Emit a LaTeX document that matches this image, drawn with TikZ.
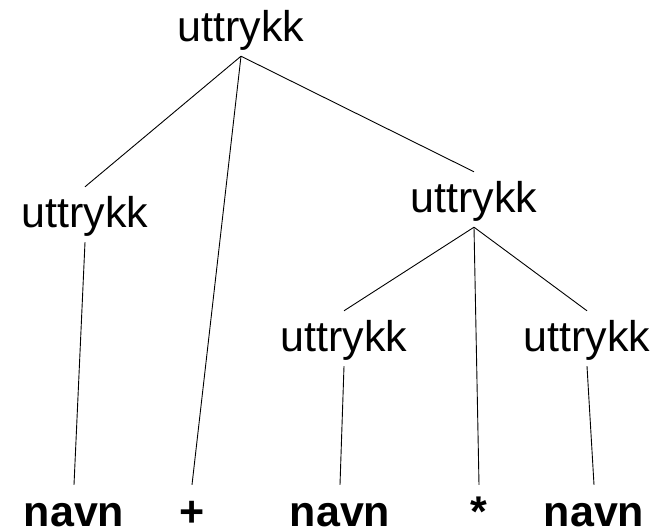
\documentclass[tikz,border=0pt]{standalone}
\usepackage{fontspec}
\setmainfont{Liberation Sans}
\begin{document}
\begin{tikzpicture}[x=1pt,y=1pt,
  sym/.style={inner sep=0pt, anchor=base, text height=41pt, text depth=14pt,
    font=\fontsize{43}{50}\selectfont},
  term/.style={sym, text depth=0pt, font=\fontsize{43}{50}\selectfont\bfseries},
  edge/.style={line width=0.9pt}]
\useasboundingbox (0,0) rectangle (659,528);
% nonterminals
\node[sym] (r)  at (241,486) {uttrykk};
\node[sym] (l)  at (85,300)  {uttrykk};
\node[sym] (rt) at (474,315) {uttrykk};
\node[sym] (rl) at (344,176) {uttrykk};
\node[sym] (rr) at (587,176) {uttrykk};
% terminals
\node[term] (n1)   at (74,2)  {navn};
\node[term] (plus) at (192,2) {+};
\node[term] (n2)   at (340,2) {navn};
\node[term] (star) at (479,2) {*};
\node[term] (n3)   at (594,2) {navn};
% edges
\draw[edge] (r.south) -- (l.north);
\draw[edge] (r.south) -- (plus.north);
\draw[edge] (r.south) -- (rt.north);
\draw[edge] (l.south) -- (n1.north);
\draw[edge] (rt.south) -- (rl.north);
\draw[edge] (rt.south) -- (star.north);
\draw[edge] (rt.south) -- (rr.north);
\draw[edge] (rl.south) -- (n2.north);
\draw[edge] (rr.south) -- (n3.north);
\end{tikzpicture}
\end{document}
